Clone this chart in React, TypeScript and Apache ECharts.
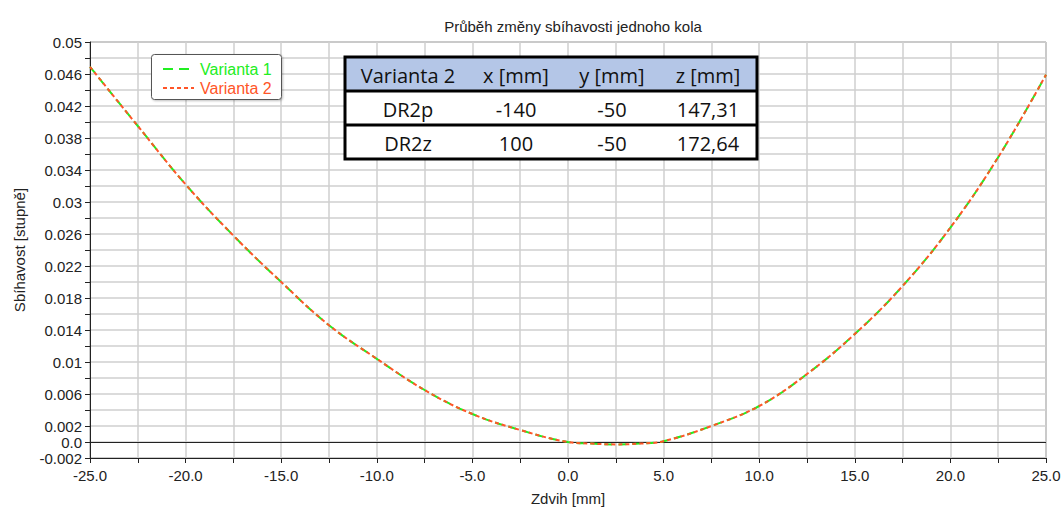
import React, { useEffect, useRef } from "react";
import * as echarts from "echarts";

// ---- data ----
const zdvih = [-25, -22.5, -20, -17.5, -15, -12.5, -10, -7.5, -5, -2.5, 0, 1.25, 2.5, 3.75, 5, 7.5, 10, 12.5, 15, 17.5, 20, 22.5, 25];
const varianta1 = [0.0469, 0.0395, 0.0322, 0.0258, 0.0200, 0.0146, 0.0104, 0.0065, 0.0035, 0.0015, 0.0, -0.0002, -0.0003, -0.0002, 0.0001, 0.0020, 0.0045, 0.0085, 0.0135, 0.0195, 0.0268, 0.0356, 0.0459];
const varianta2 = [0.0469, 0.0395, 0.0322, 0.0258, 0.0200, 0.0146, 0.0104, 0.0065, 0.0035, 0.0015, 0.0, -0.0002, -0.0003, -0.0002, 0.0001, 0.0020, 0.0045, 0.0085, 0.0135, 0.0195, 0.0268, 0.0356, 0.0459];
const seriesNames = ["Varianta 1", "Varianta 2"];
const yTickLabels = ["0.05", "0.046", "0.042", "0.038", "0.034", "0.03", "0.026", "0.022", "0.018", "0.014", "0.01", "0.006", "0.002", "0.0", "-0.002"];
const tableHeader = ["Varianta 2", "x [mm]", "y [mm]", "z [mm]"];
const tableRows = [
  ["DR2p", "-140", "-50", "147,31"],
  ["DR2z", "100", "-50", "172,64"],
];
const titleText = "Průběh změny sbíhavosti jednoho kola";
const xName = "Zdvih [mm]";
const yName = "Sbíhavost [stupně]";

const GREEN = "#22ee22";
const ORANGE = "#ff5528";
const FONT = "'Liberation Sans', Arial, sans-serif";
const TABLE_FONT = "'Open Sans', 'Noto Sans', sans-serif";

function buildTable() {
  const left = 345, top = 57, right = 757;
  const rowH = [34, 34, 34];
  const colCenters = [408, 516, 612, 708];
  const els: any[] = [];
  const totalH = rowH.reduce((a, b) => a + b, 0);
  els.push({ type: "rect", z: 100, shape: { x: left, y: top, width: right - left, height: totalH }, style: { fill: "#ffffff", stroke: "none" } });
  els.push({ type: "rect", z: 101, shape: { x: left, y: top, width: right - left, height: rowH[0] }, style: { fill: "#b4c6e7", stroke: "none" } });
  const rows = [tableHeader, ...tableRows];
  let y = top;
  rows.forEach((row, ri) => {
    row.forEach((cell, ci) => {
      els.push({
        type: "text",
        z: 103,
        style: { text: cell, x: colCenters[ci], y: y + rowH[ri] / 2 + 1, textAlign: "center", textVerticalAlign: "middle", font: `20px ${TABLE_FONT}`, fill: "#111" },
      });
    });
    y += rowH[ri];
    if (ri < rows.length - 1) {
      els.push({ type: "line", z: 102, shape: { x1: left, y1: y, x2: right, y2: y }, style: { stroke: "#000", lineWidth: 3 } });
    }
  });
  els.push({ type: "rect", z: 102, shape: { x: left, y: top, width: right - left, height: totalH }, style: { fill: "none", stroke: "#000", lineWidth: 3 } });
  return els;
}

function buildLegend() {
  const els: any[] = [];
  els.push({ type: "rect", z: 100, shape: { x: 151.5, y: 54.5, width: 130, height: 45, r: 3 }, style: { fill: "#fff", stroke: "#555", lineWidth: 1, shadowBlur: 2, shadowColor: "rgba(0,0,0,0.25)", shadowOffsetX: 1, shadowOffsetY: 1 } });
  const items = [
    { name: seriesNames[0], color: GREEN, dash: [10, 6], y: 69 },
    { name: seriesNames[1], color: ORANGE, dash: [4, 3], y: 88 },
  ];
  items.forEach((it) => {
    els.push({ type: "line", z: 101, shape: { x1: 163, y1: it.y, x2: 194, y2: it.y }, style: { stroke: it.color, lineWidth: 2, lineDash: it.dash } });
    els.push({ type: "text", z: 101, style: { text: it.name, x: 200, y: it.y, textVerticalAlign: "middle", font: `16px ${FONT}`, fill: it.color } });
  });
  return els;
}

export default function App() {
  const ref = useRef<HTMLDivElement>(null);
  useEffect(() => {
    if (!ref.current) return;
    const chart = echarts.init(ref.current, null, { renderer: "svg" });
    const d1 = zdvih.map((x, i) => [x, varianta1[i]]);
    const d2 = zdvih.map((x, i) => [x, varianta2[i]]);
    chart.setOption({
      animation: false,
      backgroundColor: "#ffffff",
      title: {
        text: titleText,
        left: 568,
        top: 14,
        textAlign: "center",
        textStyle: { fontFamily: FONT, fontSize: 15, fontWeight: "normal", color: "#222" },
      },
      grid: { left: 90, right: 18, top: 42, bottom: 54, show: true, borderColor: "#777", borderWidth: 1, backgroundColor: "transparent" },
      xAxis: {
        type: "value",
        min: -25,
        max: 25,
        interval: 2.5,
        name: xName,
        nameLocation: "middle",
        nameGap: 33,
        nameTextStyle: { fontFamily: FONT, fontSize: 15, color: "#222" },
        axisLine: { onZero: false, lineStyle: { color: "#222", width: 1 } },
        axisTick: { show: true, length: 5, lineStyle: { color: "#222" } },
        axisLabel: {
          fontFamily: FONT,
          fontSize: 15,
          color: "#222",
          margin: 10,
          formatter: (v: number) => (Math.abs(v % 5) < 1e-9 ? v.toFixed(1) : ""),
        },
        splitLine: { show: true, lineStyle: { color: "#cfcfcf", width: 1.5 } },
      },
      yAxis: {
        type: "value",
        min: -0.002,
        max: 0.05,
        interval: 0.002,
        name: yName,
        nameLocation: "middle",
        nameGap: 63,
        nameTextStyle: { fontFamily: FONT, fontSize: 15, color: "#222" },
        axisLine: { show: true, onZero: false, lineStyle: { color: "#222", width: 1 } },
        axisTick: { show: true, length: 5, lineStyle: { color: "#222" } },
        axisLabel: {
          fontFamily: FONT,
          fontSize: 15,
          color: "#222",
          margin: 8,
          formatter: (v: number) => {
            const r = Math.round(v * 1000) / 1000;
            const s = r === 0 ? "0.0" : String(r);
            return yTickLabels.includes(s) ? s : "";
          },
        },
        splitLine: { show: true, lineStyle: { color: "#cfcfcf", width: 1.5 } },
      },
      series: [
        {
          name: seriesNames[0],
          type: "line",
          data: d1,
          smooth: 0.4,
          symbol: "none",
          lineStyle: { color: GREEN, width: 2, type: [8, 6] },
          markLine: {
            silent: true,
            symbol: "none",
            label: { show: false },
            lineStyle: { color: "#222", type: "solid", width: 1 },
            data: [{ yAxis: 0 }],
            z: 1,
          },
          z: 3,
        },
        {
          name: seriesNames[1],
          type: "line",
          data: d2,
          smooth: 0.4,
          symbol: "none",
          lineStyle: { color: ORANGE, width: 2, type: [4, 3] },
          z: 4,
        },
      ],
      graphic: [...buildLegend(), ...buildTable()],
    });
    return () => chart.dispose();
  }, []);
  return <div ref={ref} style={{ position: "fixed", left: 0, top: 0, width: 1064, height: 512 }} />;
}
